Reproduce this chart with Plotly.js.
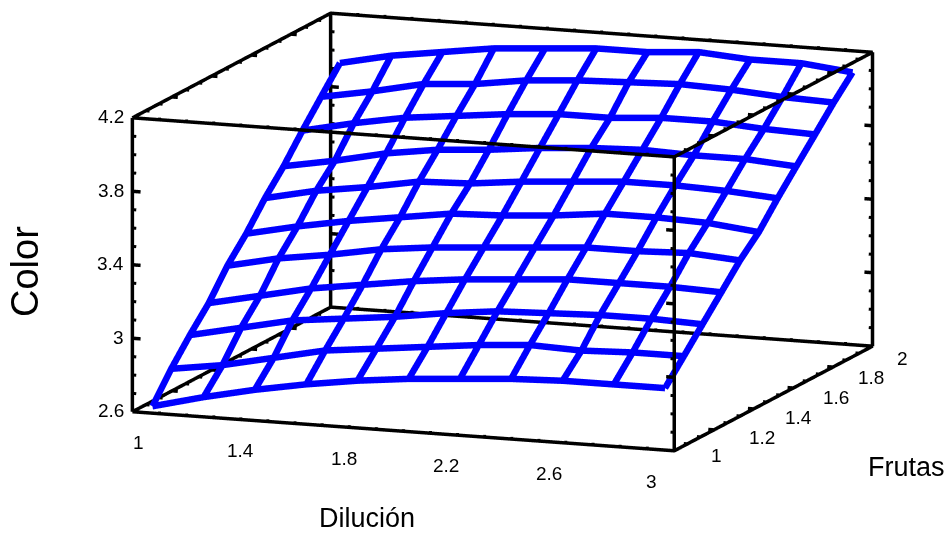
<!DOCTYPE html>
<html><head><meta charset="utf-8">
<script src="https://cdn.plot.ly/plotly-3.0.1.min.js"></script>
<style>html,body{margin:0;padding:0;background:#fff}#c{width:948px;height:533px}</style>
</head><body><div id="c"></div>
<script>
const dilucion=[1.054,1.243,1.432,1.622,1.811,2.0,2.189,2.378,2.568,2.757,2.946];
const frutas=[1.027,1.122,1.216,1.311,1.405,1.5,1.595,1.689,1.784,1.878,1.973];
const color=[
[2.62,2.69,2.75,2.80,2.84,2.87,2.89,2.91,2.92,2.92,2.92],
[2.77,2.81,2.87,2.93,2.96,2.99,3.02,3.04,3.03,3.04,3.04],
[2.90,2.96,3.02,3.05,3.08,3.12,3.15,3.16,3.17,3.17,3.16],
[3.02,3.08,3.14,3.18,3.22,3.25,3.27,3.29,3.29,3.29,3.28],
[3.17,3.23,3.27,3.32,3.35,3.37,3.39,3.41,3.41,3.42,3.40],
[3.29,3.35,3.40,3.44,3.48,3.49,3.51,3.54,3.54,3.53,3.50],
[3.43,3.49,3.53,3.58,3.59,3.62,3.64,3.66,3.66,3.65,3.63],
[3.55,3.60,3.66,3.70,3.72,3.75,3.77,3.78,3.77,3.77,3.75],
[3.69,3.75,3.80,3.83,3.86,3.88,3.88,3.90,3.90,3.88,3.87],
[3.82,3.87,3.93,3.95,3.99,4.01,4.02,4.03,4.02,4.00,3.99],
[3.95,4.01,4.05,4.09,4.11,4.13,4.13,4.15,4.13,4.13,4.10]];
const xRange=[1,3], yRange=[1,2], zRange=[2.6,4.2];
const xAxisRange=[0.8,3.2], yAxisRange=[0.9,2.1], zAxisRange=[2.44,4.36];
const xTicks=[1,1.4,1.8,2.2,2.6,3];
const yTicks=[1,1.2,1.4,1.6,1.8,2];
const zTicks=[2.6,3,3.4,3.8,4.2];
const yLabelShift=[[42,5],[48,8],[45,9],[43,10],[38,11],[30,13]];
const xMinor=[1.1,1.2,1.3,1.4,1.5,1.6,1.7,1.8,1.9,2,2.1,2.2,2.3,2.4,2.5,2.6,2.7,2.8,2.9];
const yMinor=[1.067,1.133,1.267,1.333,1.467,1.533,1.667,1.733,1.867,1.933];
const zMinor=[2.7,2.8,2.9,3.1,3.2,3.3,3.5,3.6,3.7,3.9,4.0,4.1];
const BLUE='#0000ff', BLACK='#000000';

const traces=[];
function line(xs,ys,zs,c,w){traces.push({type:'scatter3d',mode:'lines',x:xs,y:ys,z:zs,
  line:{color:c,width:w},hoverinfo:'skip',showlegend:false,connectgaps:false});}
const [x0,x1]=xRange,[y0,y1]=yRange,[z0,z1]=zRange;
for(const z of [z0,z1]){
  line([x0,x1,x1,x0,x0],[y0,y0,y1,y1,y0],[z,z,z,z,z],BLACK,7);
}
for(const [x,y] of [[x0,y0],[x1,y0],[x1,y1],[x0,y1]]) line([x,x],[y,y],[z0,z1],BLACK,7);
function segs(list){const X=[],Y=[],Z=[];for(const s of list){X.push(s[0],s[3],null);Y.push(s[1],s[4],null);Z.push(s[2],s[5],null);}return [X,Y,Z];}
const dX=0.014,dXM=0.03,dZ=0.012;
const minor=[],major=[];
for(const [x,s] of [[x0,1],[x1,-1]]) for(const y of [y0,y1]){
  for(const z of zMinor) minor.push([x,y,z,x+s*dX,y,z]);
  for(const z of zTicks) major.push([x,y,z,x+s*dXM,y,z]);
}
for(const z of [z0,z1]) for(const y of [y0,y1]) for(const x of xMinor) minor.push([x,y,z,x,y,z+dZ]);
for(const z of [z0,z1]) for(const x of [x0,x1]) {
  const s=x===x0?1:-1;
  for(const y of yMinor) minor.push([x,y,z,x+s*dX,y,z]);
  for(const y of yTicks) major.push([x,y,z,x+s*dXM*0.7,y,z]);
}
line(...segs(minor),BLACK,6);
line(...segs(major),BLACK,7);
for(let j=0;j<frutas.length;j++) line(dilucion,frutas.map(()=>frutas[j]),color[j],BLUE,13);
for(let i=0;i<dilucion.length;i++) line(dilucion.map(()=>dilucion[i]),frutas,color.map(r=>r[i]),BLUE,13);

const TF={family:'"Liberation Sans",Arial,sans-serif',size:19,color:'#000'};
const sceneAnn=[];
xTicks.forEach(v=>sceneAnn.push({x:v,y:y0,z:z0,text:String(v),showarrow:false,font:TF,
  xanchor:'center',yanchor:'middle',xshift:6-14.5*(v-1),yshift:-31}));
yTicks.forEach((v,k)=>sceneAnn.push({x:x1,y:v,z:z0,text:String(v),showarrow:false,font:TF,
  xanchor:'center',yanchor:'middle',xshift:yLabelShift[k][0],yshift:-yLabelShift[k][1]}));
zTicks.forEach(v=>sceneAnn.push({x:x0,y:y0,z:v,text:String(v),showarrow:false,font:TF,
  xanchor:'right',yanchor:'middle',xshift:-6,yshift:1}));

const ax=r=>({range:r,autorange:false,showgrid:false,zeroline:false,showline:false,showticklabels:false,
  ticks:'',showbackground:false,showspikes:false,title:{text:''}});
const layout={width:948,height:533,margin:{l:0,r:0,t:0,b:0},paper_bgcolor:'#fff',showlegend:false,
  scene:{domain:{x:[0.06,1],y:[0.13,1]},
    aspectmode:'manual',aspectratio:{x:2.988,y:2.958,z:1.55},
    camera:{projection:{type:'orthographic'},up:{x:0,y:0,z:1},center:{x:0,y:0,z:0},eye:{x:1.36,y:-3.68,z:0.78}},
    xaxis:ax(xAxisRange),yaxis:ax(yAxisRange),zaxis:ax(zAxisRange),annotations:sceneAnn},
  annotations:[
   {xref:'paper',yref:'paper',x:367/948,y:1-518/533,text:'Dilución',showarrow:false,font:{family:TF.family,size:27,color:'#000'},xanchor:'center',yanchor:'middle'},
   {xref:'paper',yref:'paper',x:906/948,y:1-467/533,text:'Frutas',showarrow:false,font:{family:TF.family,size:27,color:'#000'},xanchor:'center',yanchor:'middle'},
   {xref:'paper',yref:'paper',x:25/948,y:1-272/533,text:'Color',textangle:-90,showarrow:false,font:{family:TF.family,size:38,color:'#000'},xanchor:'center',yanchor:'middle'}
  ]};
Plotly.newPlot('c',traces,layout,{displayModeBar:false});
</script></body></html>
